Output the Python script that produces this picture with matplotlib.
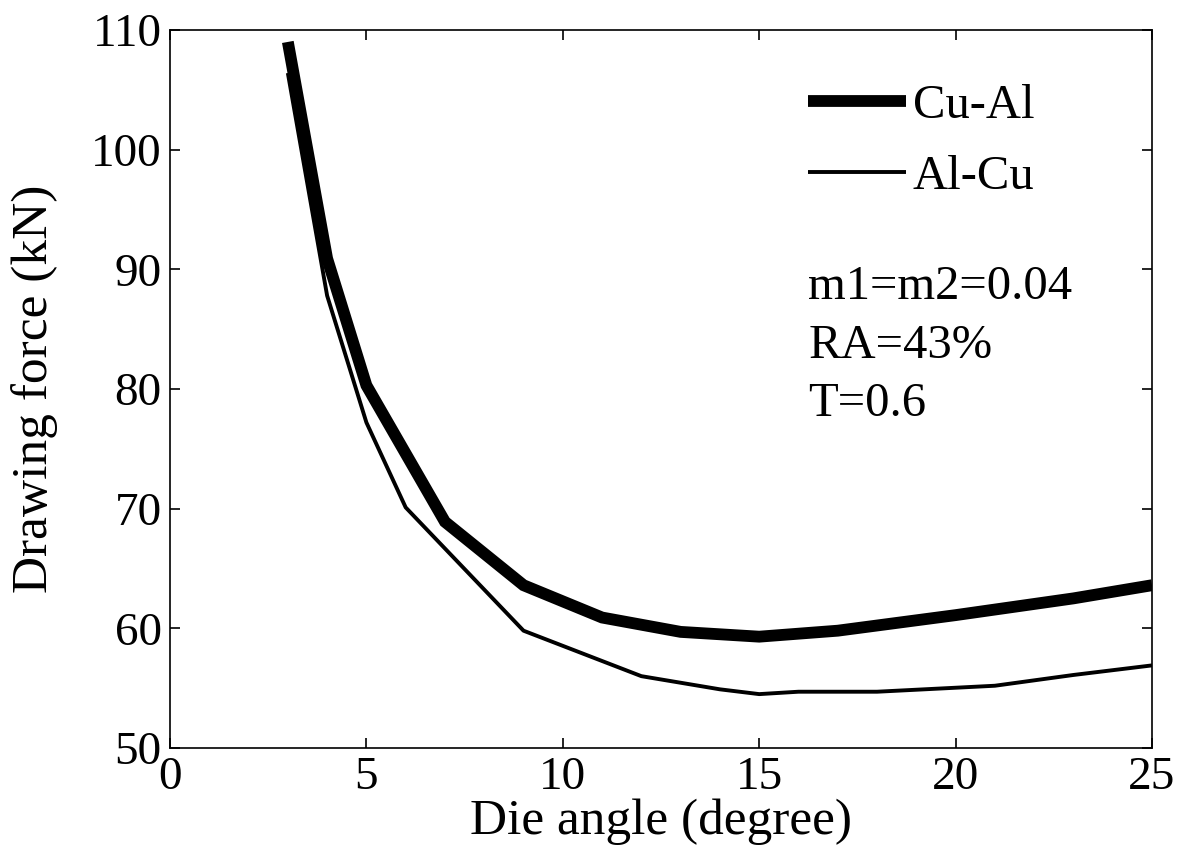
import matplotlib
matplotlib.use("Agg")
import matplotlib.pyplot as plt

# values
cu_al_angle = [3, 4, 5, 7, 9, 11, 13, 15, 17, 20, 23, 25]
cu_al_force = [109.0, 90.9, 80.3, 68.9, 63.6, 60.9, 59.7, 59.3, 59.8, 61.1, 62.5, 63.6]

al_cu_angle = [3, 4, 5, 6, 9, 12, 14, 15, 16, 18, 21, 23, 25]
al_cu_force = [106.4, 87.8, 77.2, 70.1, 59.8, 56.0, 54.9, 54.5, 54.7, 54.7, 55.2, 56.1, 56.9]

x_ticks = [0, 5, 10, 15, 20, 25]
y_ticks = [50, 60, 70, 80, 90, 100, 110]

plt.rcParams['font.family'] = ['Liberation Serif', 'DejaVu Serif']

fig = plt.figure(figsize=(11.83, 8.66), dpi=100)
ax = fig.add_axes([0.1437, 0.1363, 0.8301, 0.8291])

ax.plot(cu_al_angle, cu_al_force, color='black', linewidth=8.5,
        solid_capstyle='butt', solid_joinstyle='miter', label='Cu-Al')
ax.plot(al_cu_angle, al_cu_force, color='black', linewidth=2.8,
        solid_capstyle='butt', label='Al-Cu')

ax.set_xlim(0, 25)
ax.set_ylim(50, 110)
ax.set_xticks(x_ticks)
ax.set_yticks(y_ticks)
ax.tick_params(direction='in', length=7, width=1.2, top=True, right=True,
               labelsize=34, pad=6)
for sp in ax.spines.values():
    sp.set_linewidth(1.2)

ax.set_xlabel('Die angle (degree)', fontsize=37, labelpad=0)
ax.set_ylabel('Drawing force (kN)', fontsize=37, labelpad=24)

ax.legend(loc='upper left', bbox_to_anchor=(0.65, 0.925), frameon=False,
          fontsize=35, handlelength=2.0, handletextpad=0.15,
          borderpad=0, borderaxespad=0, labelspacing=0.55)

ax.text(0.65, 0.672, 'm1=m2=0.04\nRA=43%\nT=0.6', transform=ax.transAxes,
        fontsize=35, va='top', ha='left', linespacing=1.42)

fig.savefig('out.png', dpi=100)
